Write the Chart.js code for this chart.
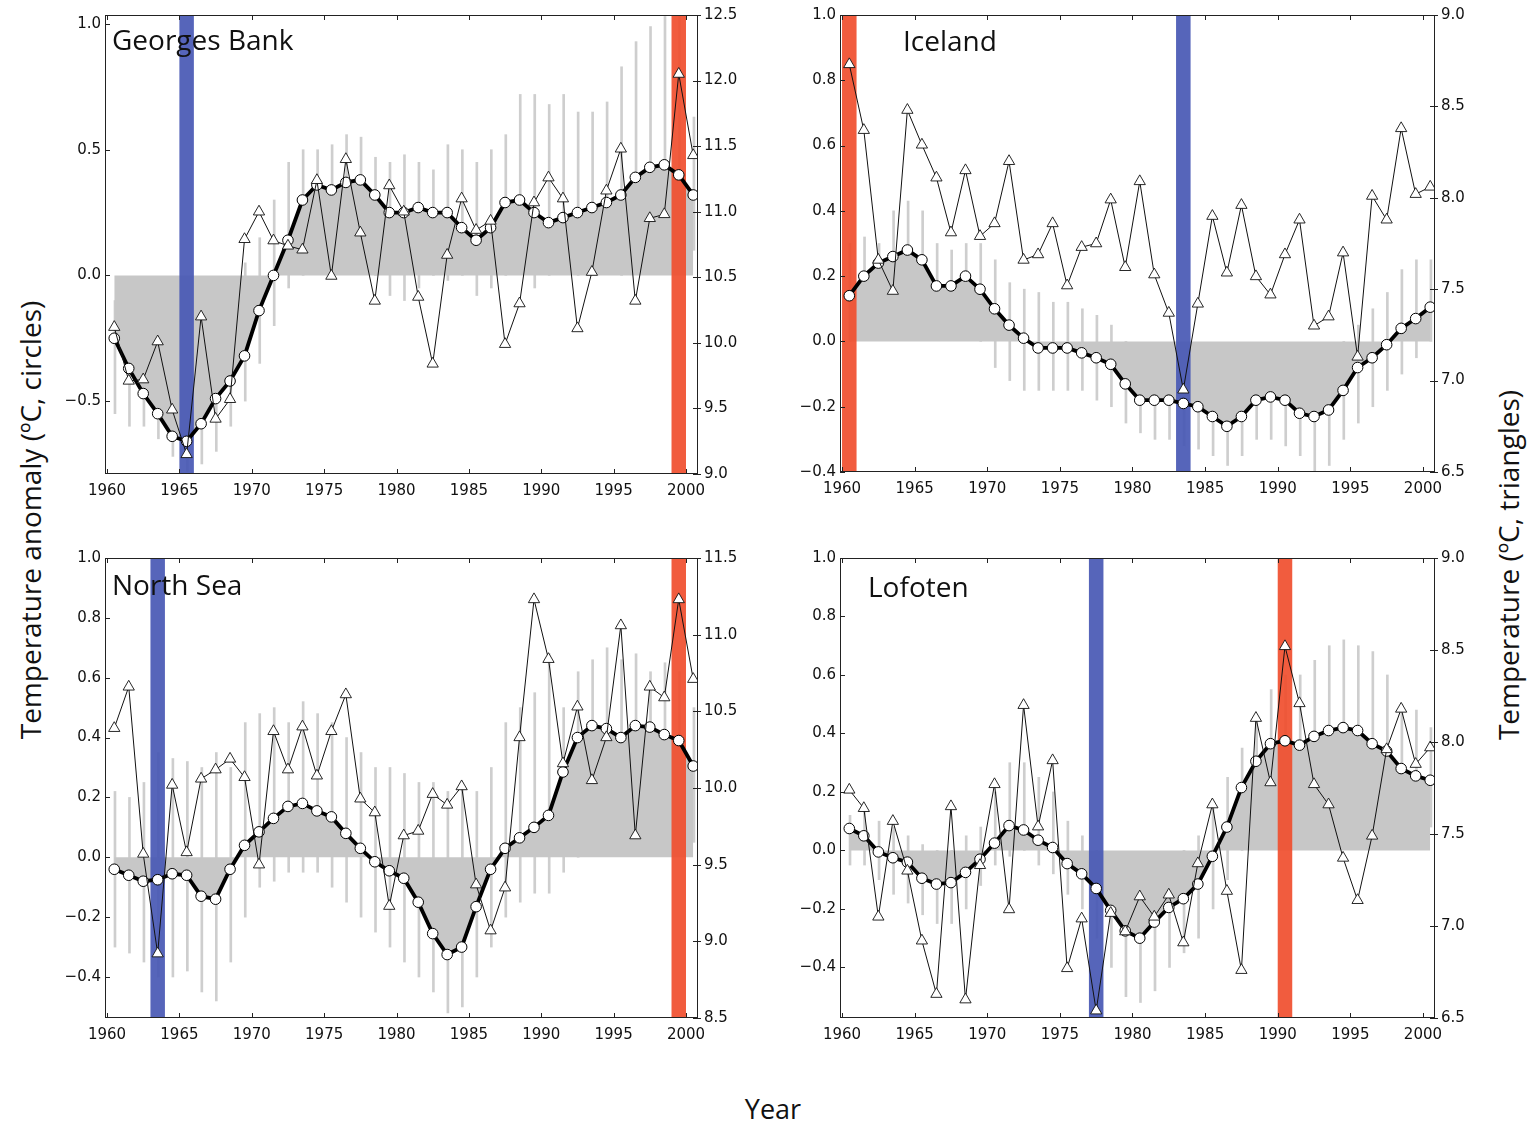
<!DOCTYPE html>
<html>
<head>
<meta charset="utf-8">
<script src="https://cdn.jsdelivr.net/npm/chart.js@4.4.1/dist/chart.umd.min.js"></script>
<style>
  body { margin: 0; background: #fff; width: 1530px; height: 1124px; position: relative; overflow: hidden; font-family: "Open Sans", sans-serif; }
  canvas { position: absolute; }
  .lbl { position: absolute; font-size: 28px; color: #111; white-space: nowrap; transform: translate(-50%, -50%); }
</style>
</head>
<body>
<div class="lbl" style="left:30px; top:520px; transform: translate(-50%, -50%) rotate(-90deg);">Temperature anomaly (ºC, circles)</div>
<div class="lbl" style="left:1508px; top:565px; transform: translate(-50%, -50%) rotate(-90deg);">Temperature (ºC, triangles)</div>
<div class="lbl" style="left:773px; top:1108px; font-size:27px;">Year</div>
<script>
/* Data (one value per year, 1960-2000) */
const years = [1960, 1961, 1962, 1963, 1964, 1965, 1966, 1967, 1968, 1969,
               1970, 1971, 1972, 1973, 1974, 1975, 1976, 1977, 1978, 1979,
               1980, 1981, 1982, 1983, 1984, 1985, 1986, 1987, 1988, 1989,
               1990, 1991, 1992, 1993, 1994, 1995, 1996, 1997, 1998, 1999, 2000];
const yearTicks = [1960, 1965, 1970, 1975, 1980, 1985, 1990, 1995, 2000];

// Georges Bank
const gbCircles = [-0.25, -0.37, -0.47, -0.55, -0.64, -0.66, -0.59, -0.49, -0.42, -0.32,
                   -0.14, 0.00, 0.14, 0.30, 0.36, 0.34, 0.37, 0.38, 0.32, 0.25,
                   0.25, 0.27, 0.25, 0.25, 0.19, 0.14, 0.19, 0.29, 0.30, 0.25,
                   0.21, 0.23, 0.25, 0.27, 0.29, 0.32, 0.39, 0.43, 0.44, 0.40, 0.32];
const gbTriangles = [10.12, 9.71, 9.72, 10.01, 9.49, 9.15, 10.20, 9.42, 9.57, 10.79,
                     11.00, 10.78, 10.74, 10.71, 11.24, 10.51, 11.40, 10.84, 10.32, 11.20,
                     11.00, 10.35, 9.84, 10.67, 11.10, 10.86, 10.93, 9.99, 10.30, 11.07,
                     11.26, 11.10, 10.11, 10.54, 11.16, 11.48, 10.32, 10.95, 10.98, 12.05, 11.43];
const gbSpikeHi = [-0.10, -0.15, -0.20, -0.15, -0.30, -0.40, -0.30, -0.20, -0.15, 0.05,
                   0.15, 0.30, 0.45, 0.50, 0.50, 0.52, 0.56, 0.55, 0.47, 0.45,
                   0.48, 0.45, 0.42, 0.52, 0.50, 0.45, 0.50, 0.56, 0.72, 0.72,
                   0.68, 0.72, 0.65, 0.65, 0.69, 0.83, 0.93, 0.99, 1.03, 1.03, 0.63];
const gbSpikeLo = [-0.55, -0.60, -0.60, -0.65, -0.72, -0.78, -0.75, -0.70, -0.60, -0.50,
                   -0.35, -0.20, -0.05, 0.00, 0.05, 0.00, 0.05, 0.05, 0.00, -0.08,
                   -0.10, -0.05, 0.00, -0.02, 0.00, -0.08, -0.05, 0.00, 0.05, -0.05,
                   0.00, 0.05, 0.00, 0.05, 0.05, 0.00, 0.05, 0.05, 0.10, 0.10, 0.10];
const gbLeftTicks = [-0.5, 0.0, 0.5, 1.0];
const gbRightTicks = [9.0, 9.5, 10.0, 10.5, 11.0, 11.5, 12.0, 12.5];

// Iceland
const icCircles = [0.14, 0.20, 0.24, 0.26, 0.28, 0.25, 0.17, 0.17, 0.20, 0.16,
                   0.10, 0.05, 0.01, -0.02, -0.02, -0.02, -0.035, -0.05, -0.07, -0.13,
                   -0.18, -0.18, -0.18, -0.19, -0.20, -0.23, -0.26, -0.23, -0.18, -0.17,
                   -0.18, -0.22, -0.23, -0.21, -0.15, -0.08, -0.05, -0.01, 0.04, 0.07, 0.105];
const icTriangles = [8.73, 8.37, 7.66, 7.49, 8.48, 8.29, 8.11, 7.81, 8.15, 7.79,
                     7.86, 8.20, 7.66, 7.69, 7.86, 7.52, 7.73, 7.75, 7.99, 7.62,
                     8.09, 7.58, 7.37, 6.95, 7.42, 7.90, 7.59, 7.96, 7.57, 7.47,
                     7.69, 7.88, 7.30, 7.35, 7.70, 7.13, 8.01, 7.88, 8.38, 8.02, 8.06];
const icSpikeHi = [0.30, 0.32, 0.30, 0.40, 0.43, 0.40, 0.30, 0.28, 0.30, 0.30,
                   0.25, 0.18, 0.16, 0.15, 0.12, 0.12, 0.10, 0.08, 0.05, 0.00,
                   -0.05, -0.05, -0.08, -0.08, -0.10, -0.10, -0.12, -0.10, -0.08, -0.05,
                   -0.08, -0.10, -0.12, -0.10, 0.00, 0.05, 0.10, 0.15, 0.22, 0.25, 0.25];
const icSpikeLo = [0.00, 0.05, 0.10, 0.10, 0.10, 0.05, 0.05, 0.05, 0.05, 0.00,
                   -0.08, -0.12, -0.15, -0.15, -0.15, -0.15, -0.15, -0.18, -0.20, -0.25,
                   -0.28, -0.30, -0.30, -0.32, -0.33, -0.35, -0.38, -0.35, -0.30, -0.30,
                   -0.32, -0.35, -0.40, -0.38, -0.30, -0.25, -0.20, -0.15, -0.10, -0.05, 0.00];
const icLeftTicks = [-0.4, -0.2, 0.0, 0.2, 0.4, 0.6, 0.8, 1.0];
const icRightTicks = [6.5, 7.0, 7.5, 8.0, 8.5, 9.0];

// North Sea
const nsCircles = [-0.04, -0.06, -0.08, -0.075, -0.055, -0.06, -0.13, -0.14, -0.04, 0.04,
                   0.085, 0.13, 0.17, 0.18, 0.155, 0.135, 0.08, 0.03, -0.015, -0.045,
                   -0.07, -0.15, -0.255, -0.325, -0.30, -0.165, -0.04, 0.03, 0.065, 0.10,
                   0.14, 0.285, 0.40, 0.44, 0.43, 0.40, 0.44, 0.435, 0.41, 0.39, 0.305];
const nsTriangles = [10.39, 10.66, 9.57, 8.92, 10.02, 9.58, 10.06, 10.12, 10.19, 10.07,
                     9.50, 10.37, 10.12, 10.40, 10.08, 10.37, 10.61, 9.93, 9.84, 9.23,
                     9.69, 9.72, 9.96, 9.89, 10.01, 9.37, 9.07, 9.35, 10.33, 11.23,
                     10.84, 10.16, 10.53, 10.05, 10.33, 11.06, 9.69, 10.66, 10.59, 11.23, 10.71];
const nsSpikeHi = [0.22, 0.20, 0.25, 0.35, 0.33, 0.32, 0.30, 0.35, 0.30, 0.45,
                   0.48, 0.50, 0.45, 0.52, 0.48, 0.45, 0.40, 0.35, 0.30, 0.30,
                   0.28, 0.25, 0.25, 0.22, 0.25, 0.22, 0.30, 0.45, 0.50, 0.55,
                   0.68, 0.50, 0.62, 0.66, 0.70, 0.66, 0.68, 0.62, 0.65, 0.62, 0.50];
const nsSpikeLo = [-0.30, -0.32, -0.35, -0.40, -0.40, -0.38, -0.45, -0.48, -0.35, -0.20,
                   -0.10, -0.08, -0.05, -0.05, -0.05, -0.10, -0.15, -0.20, -0.25, -0.30,
                   -0.35, -0.40, -0.45, -0.52, -0.50, -0.40, -0.30, -0.20, -0.15, -0.12,
                   -0.12, -0.05, 0.00, 0.05, 0.05, 0.05, 0.05, 0.05, 0.05, 0.05, 0.05];
const nsLeftTicks = [-0.4, -0.2, 0.0, 0.2, 0.4, 0.6, 0.8, 1.0];
const nsRightTicks = [8.5, 9.0, 9.5, 10.0, 10.5, 11.0, 11.5];

// Lofoten
const loCircles = [0.075, 0.05, -0.005, -0.025, -0.04, -0.095, -0.115, -0.11, -0.075, -0.03,
                   0.025, 0.085, 0.07, 0.035, 0.01, -0.045, -0.08, -0.13, -0.205, -0.275,
                   -0.30, -0.245, -0.195, -0.165, -0.115, -0.02, 0.08, 0.215, 0.305, 0.365,
                   0.375, 0.36, 0.39, 0.41, 0.42, 0.41, 0.365, 0.34, 0.28, 0.255, 0.24];
const loTriangles = [7.74, 7.64, 7.05, 7.57, 7.30, 6.92, 6.63, 7.65, 6.60, 7.33,
                     7.77, 7.09, 8.20, 7.54, 7.90, 6.77, 7.04, 6.54, 7.07, 6.97,
                     7.16, 7.05, 7.17, 6.91, 7.34, 7.66, 7.19, 6.76, 8.13, 7.78,
                     8.52, 8.21, 7.77, 7.66, 7.37, 7.14, 7.49, 7.96, 8.18, 7.88, 7.97];
const loSpikeHi = [0.12, 0.15, 0.10, 0.08, 0.05, 0.02, 0.00, 0.00, 0.05, 0.08,
                   0.20, 0.30, 0.30, 0.25, 0.20, 0.10, 0.05, 0.00, -0.05, -0.05,
                   -0.08, -0.05, -0.02, 0.00, 0.05, 0.15, 0.25, 0.35, 0.45, 0.55,
                   0.60, 0.60, 0.65, 0.70, 0.72, 0.70, 0.68, 0.60, 0.50, 0.48, 0.42];
const loSpikeLo = [-0.05, -0.05, -0.10, -0.15, -0.18, -0.22, -0.25, -0.25, -0.20, -0.12,
                   -0.05, -0.02, 0.00, -0.05, -0.08, -0.15, -0.20, -0.30, -0.40, -0.50,
                   -0.52, -0.48, -0.40, -0.35, -0.30, -0.20, -0.10, 0.00, 0.10, 0.15,
                   0.15, 0.15, 0.15, 0.15, 0.15, 0.15, 0.15, 0.12, 0.10, 0.08, 0.08];
const loLeftTicks = [-0.4, -0.2, 0.0, 0.2, 0.4, 0.6, 0.8, 1.0];
const loRightTicks = [6.5, 7.0, 7.5, 8.0, 8.5, 9.0];

/* Panel setup */
const panels = [
  { title: 'Georges Bank', circles: gbCircles, triangles: gbTriangles, hi: gbSpikeHi, lo: gbSpikeLo,
    yMin: -0.79, yMax: 1.036, yTicks: gbLeftTicks, y2Min: 9.0, y2Max: 12.5, y2Ticks: gbRightTicks,
    blue: 1965, red: 1999, area: [105, 14, 698, 474], titleAt: [112, 50] },
  { title: 'Iceland', circles: icCircles, triangles: icTriangles, hi: icSpikeHi, lo: icSpikeLo,
    yMin: -0.4, yMax: 1.0, yTicks: icLeftTicks, y2Min: 6.5, y2Max: 9.0, y2Ticks: icRightTicks,
    blue: 1983, red: 1960, area: [840, 14, 1435, 472], titleAt: [903, 51] },
  { title: 'North Sea', circles: nsCircles, triangles: nsTriangles, hi: nsSpikeHi, lo: nsSpikeLo,
    yMin: -0.537, yMax: 1.0, yTicks: nsLeftTicks, y2Min: 8.5, y2Max: 11.5, y2Ticks: nsRightTicks,
    blue: 1963, red: 1999, area: [105, 557, 698, 1018], titleAt: [112, 595] },
  { title: 'Lofoten', circles: loCircles, triangles: loTriangles, hi: loSpikeHi, lo: loSpikeLo,
    yMin: -0.573, yMax: 1.0, yTicks: loLeftTicks, y2Min: 6.5, y2Max: 9.0, y2Ticks: loRightTicks,
    blue: 1977, red: 1990, area: [840, 557, 1435, 1018], titleAt: [868, 597] }
];

const PAD_L = 60, PAD_R = 65, PAD_T = 14, PAD_B = 35;

function fmt(v) {
    return (v < 0 ? '\u2212' : '') + Math.abs(v).toFixed(1);
}

// bands under the lines, frame and inward ticks on top, panel title
const decoPlugin = {
    id: 'deco',
    beforeDatasetDraw(chart, args) {
        if (chart.data.datasets[args.index].label !== 'circles') return;
        const p = chart.options.plugins.deco.panel;
        const { ctx, chartArea: a, scales } = chart;
        ctx.save();
        ctx.beginPath();
        ctx.rect(a.left, a.top, a.width, a.height);
        ctx.clip();
        [[p.blue, 'rgba(72, 88, 180, 0.92)'], [p.red, 'rgba(240, 78, 46, 0.92)']].forEach(([yr, col]) => {
            const x0 = scales.x.getPixelForValue(yr);
            const x1 = scales.x.getPixelForValue(yr + 1);
            ctx.fillStyle = col;
            ctx.fillRect(x0, a.top, x1 - x0, a.height);
        });
        ctx.restore();
    },
    afterDraw(chart) {
        const p = chart.options.plugins.deco.panel;
        const { ctx, chartArea: a, scales } = chart;
        ctx.save();
        ctx.strokeStyle = '#222';
        ctx.lineWidth = 1;
        ctx.strokeRect(Math.round(a.left) + 0.5, Math.round(a.top) + 0.5,
                       Math.round(a.width) - 1, Math.round(a.height) - 1);
        ctx.beginPath();
        scales.x.ticks.forEach(t => {
            const px = Math.round(scales.x.getPixelForValue(t.value)) + 0.5;
            ctx.moveTo(px, a.bottom); ctx.lineTo(px, a.bottom - 5);
            ctx.moveTo(px, a.top); ctx.lineTo(px, a.top + 5);
        });
        scales.y.ticks.forEach(t => {
            const py = Math.round(scales.y.getPixelForValue(t.value)) + 0.5;
            ctx.moveTo(a.left, py); ctx.lineTo(a.left + 5, py);
        });
        scales.y2.ticks.forEach(t => {
            const py = Math.round(scales.y2.getPixelForValue(t.value)) + 0.5;
            ctx.moveTo(a.right - 5, py); ctx.lineTo(a.right + 3, py);
        });
        ctx.stroke();
        ctx.fillStyle = '#111';
        ctx.font = '28px "Open Sans"';
        ctx.textBaseline = 'alphabetic';
        ctx.fillText(p.title, p.titleAt[0] - (p.area[0] - PAD_L), p.titleAt[1] - (p.area[1] - PAD_T));
        ctx.restore();
    }
};

function buildPanel(p) {
    const [L, T, R, B] = p.area;
    const W = R - L + PAD_L + PAD_R;
    const H = B - T + PAD_T + PAD_B;
    const canvas = document.createElement('canvas');
    canvas.width = W;
    canvas.height = H;
    canvas.style.left = (L - PAD_L) + 'px';
    canvas.style.top = (T - PAD_T) + 'px';
    canvas.style.width = W + 'px';
    canvas.style.height = H + 'px';
    document.body.appendChild(canvas);

    const circlePts = years.map((y, i) => ({ x: y + 0.5, y: p.circles[i] }));
    const trianglePts = years.map((y, i) => ({ x: y + 0.5, y: p.triangles[i] }));
    const spikePts = years.map((y, i) => ({ x: y + 0.55, y: [p.lo[i], p.hi[i]] }));

    const tickFont = { family: '"DejaVu Sans"', size: 15 };

    new Chart(canvas, {
        type: 'line',
        data: {
            datasets: [
                {
                    type: 'bar',
                    label: 'spikes',
                    data: spikePts,
                    yAxisID: 'y',
                    backgroundColor: 'rgba(180, 180, 180, 0.65)',
                    borderWidth: 0,
                    barThickness: 2,
                    order: 6
                },
                {
                    label: 'fill',
                    data: circlePts,
                    yAxisID: 'y',
                    fill: 'origin',
                    backgroundColor: '#c7c7c7',
                    borderWidth: 0,
                    pointRadius: 0,
                    order: 5
                },
                {
                    label: 'circles',
                    data: circlePts,
                    yAxisID: 'y',
                    borderColor: '#000',
                    borderWidth: 3.8,
                    pointRadius: 5.3,
                    pointBackgroundColor: '#fff',
                    pointBorderColor: '#000',
                    pointBorderWidth: 1,
                    fill: false,
                    order: 3
                },
                {
                    label: 'triangles',
                    data: trianglePts,
                    yAxisID: 'y2',
                    borderColor: '#111',
                    borderWidth: 1,
                    pointStyle: 'triangle',
                    pointRadius: 6.5,
                    pointBackgroundColor: '#fff',
                    pointBorderColor: '#111',
                    pointBorderWidth: 0.9,
                    fill: false,
                    order: 2
                }
            ]
        },
        options: {
            responsive: false,
            animation: false,
            layout: { padding: { top: PAD_T, left: 0, right: 0, bottom: 0 } },
            plugins: {
                legend: { display: false },
                tooltip: { enabled: false },
                deco: { panel: p }
            },
            scales: {
                x: {
                    type: 'linear',
                    min: 1959.86,
                    max: 2000.83,
                    offset: false,
                    grid: { display: false, drawTicks: false, offset: false },
                    border: { display: false },
                    afterBuildTicks: s => { s.ticks = yearTicks.map(v => ({ value: v })); },
                    afterFit: s => { s.height = PAD_B; },
                    ticks: { font: tickFont, color: '#111', padding: 8, maxRotation: 0, callback: v => String(v) }
                },
                y: {
                    type: 'linear',
                    position: 'left',
                    min: p.yMin,
                    max: p.yMax,
                    grid: { display: false, drawTicks: false },
                    border: { display: false },
                    afterBuildTicks: s => { s.ticks = p.yTicks.map(v => ({ value: v })); },
                    afterFit: s => { s.width = PAD_L; },
                    ticks: { font: tickFont, color: '#111', padding: 4, callback: v => fmt(v) }
                },
                y2: {
                    type: 'linear',
                    position: 'right',
                    min: p.y2Min,
                    max: p.y2Max,
                    grid: { display: false, drawTicks: false },
                    border: { display: false },
                    afterBuildTicks: s => { s.ticks = p.y2Ticks.map(v => ({ value: v })); },
                    afterFit: s => { s.width = PAD_R; },
                    ticks: { font: tickFont, color: '#111', padding: 6, callback: v => fmt(v) }
                }
            }
        },
        plugins: [decoPlugin]
    });
}

panels.forEach(buildPanel);
</script>
</body>
</html>
